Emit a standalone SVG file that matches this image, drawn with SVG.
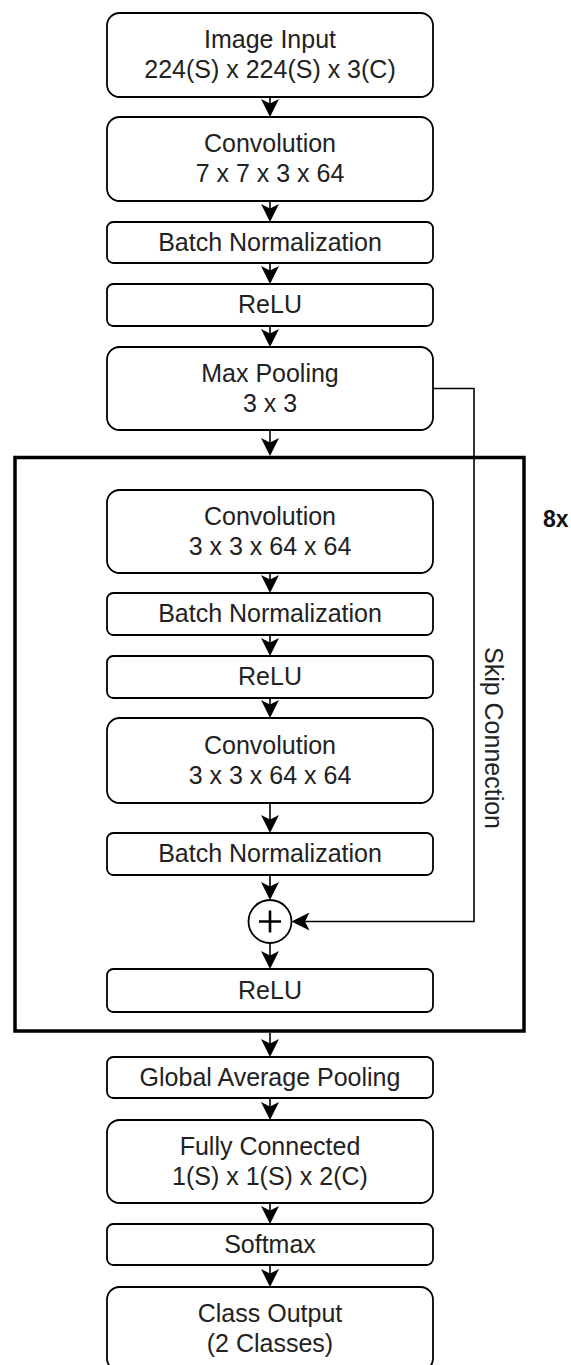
<svg xmlns="http://www.w3.org/2000/svg" width="571" height="1365" viewBox="0 0 571 1365">
<style>
.box{fill:#fff;stroke:#000;stroke-width:1.8}
.t{font-family:"Liberation Sans",Arial,sans-serif;font-size:25px;fill:#222;text-anchor:middle}
.c{fill:none;stroke:#000;stroke-width:1.6}
</style>
<defs>
<marker id="ah" markerUnits="userSpaceOnUse" viewBox="0 0 18 18" markerWidth="18" markerHeight="18" refX="14" refY="9" orient="auto">
<path d="M0,0 L18,9 L0,18 L4.5,9 Z" fill="#000"/>
</marker>
</defs>
<rect width="571" height="1365" fill="#fff"/>
<g id="repeat-block">
<rect x="15" y="457.5" width="509" height="573.5" fill="none" stroke="#000" stroke-width="3.5"/>
<text x="543" y="527" style="font-family:'Liberation Sans',Arial,sans-serif;font-size:23px;font-weight:bold;fill:#111">8x</text>
</g>
<g id="connectors">
<path class="c" d="M270,97 V113" marker-end="url(#ah)"/>
<path class="c" d="M270,201 V218" marker-end="url(#ah)"/>
<path class="c" d="M270,263 V280" marker-end="url(#ah)"/>
<path class="c" d="M270,326 V343" marker-end="url(#ah)"/>
<path class="c" d="M270,430 V452" marker-end="url(#ah)"/>
<path class="c" d="M270,573 V589" marker-end="url(#ah)"/>
<path class="c" d="M270,635 V652" marker-end="url(#ah)"/>
<path class="c" d="M270,698 V714" marker-end="url(#ah)"/>
<path class="c" d="M270,803 V829" marker-end="url(#ah)"/>
<path class="c" d="M270,875 V896" marker-end="url(#ah)"/>
<path class="c" d="M270,943 V965" marker-end="url(#ah)"/>
<path class="c" d="M270,1033 V1053" marker-end="url(#ah)"/>
<path class="c" d="M270,1098 V1116" marker-end="url(#ah)"/>
<path class="c" d="M270,1203 V1220" marker-end="url(#ah)"/>
<path class="c" d="M270,1265 V1283" marker-end="url(#ah)"/>
<path class="c" d="M433,388.5 H474 V921.5 H295.5" marker-end="url(#ah)"/>
<text class="t" transform="translate(485,738) rotate(90)">Skip Connection</text>
</g>
<g id="image-input">
<rect class="box" x="107" y="13" width="326" height="84" rx="12.6"/>
<text class="t" x="270" y="48">Image Input</text>
<text class="t" x="270" y="78">224(S) x 224(S) x 3(C)</text>
</g>
<g id="conv1">
<rect class="box" x="107" y="117" width="326" height="84" rx="12.6"/>
<text class="t" x="270" y="152">Convolution</text>
<text class="t" x="270" y="182">7 x 7 x 3 x 64</text>
</g>
<g id="bn1">
<rect class="box" x="107" y="222" width="326" height="41" rx="6.2"/>
<text class="t" x="270" y="250.5">Batch Normalization</text>
</g>
<g id="relu1">
<rect class="box" x="107" y="284" width="326" height="42" rx="6.2"/>
<text class="t" x="270" y="313">ReLU</text>
</g>
<g id="maxpool">
<rect class="box" x="107" y="347" width="326" height="83" rx="12.6"/>
<text class="t" x="270" y="382">Max Pooling</text>
<text class="t" x="270" y="412">3 x 3</text>
</g>
<g id="conv-a">
<rect class="box" x="107" y="490" width="326" height="83" rx="12.6"/>
<text class="t" x="270" y="525">Convolution</text>
<text class="t" x="270" y="555">3 x 3 x 64 x 64</text>
</g>
<g id="bn-a">
<rect class="box" x="107" y="593" width="326" height="42" rx="6.2"/>
<text class="t" x="270" y="622">Batch Normalization</text>
</g>
<g id="relu-a">
<rect class="box" x="107" y="656" width="326" height="42" rx="6.2"/>
<text class="t" x="270" y="685">ReLU</text>
</g>
<g id="conv-b">
<rect class="box" x="107" y="718" width="326" height="85" rx="12.6"/>
<text class="t" x="270" y="754">Convolution</text>
<text class="t" x="270" y="784">3 x 3 x 64 x 64</text>
</g>
<g id="bn-b">
<rect class="box" x="107" y="833" width="326" height="42" rx="6.2"/>
<text class="t" x="270" y="862">Batch Normalization</text>
</g>
<g id="sum">
<circle cx="270" cy="921.5" r="21.5" fill="#fff" stroke="#000" stroke-width="1.8"/>
<path d="M259,921.5 H281 M270,910.5 V932.5" stroke="#000" stroke-width="2.6" fill="none"/>
</g>
<g id="relu-b">
<rect class="box" x="107" y="969" width="326" height="43" rx="6.2"/>
<text class="t" x="270" y="998.5">ReLU</text>
</g>
<g id="gap">
<rect class="box" x="107" y="1057" width="326" height="41" rx="6.2"/>
<text class="t" x="270" y="1086">Global Average Pooling</text>
</g>
<g id="fc">
<rect class="box" x="107" y="1120" width="326" height="83" rx="12.6"/>
<text class="t" x="270" y="1155">Fully Connected</text>
<text class="t" x="270" y="1185">1(S) x 1(S) x 2(C)</text>
</g>
<g id="softmax">
<rect class="box" x="107" y="1224" width="326" height="41" rx="6.2"/>
<text class="t" x="270" y="1253">Softmax</text>
</g>
<g id="class-output">
<rect class="box" x="107" y="1287" width="326" height="84" rx="12.6"/>
<text class="t" x="270" y="1322">Class Output</text>
<text class="t" x="270" y="1352">(2 Classes)</text>
</g>
</svg>
